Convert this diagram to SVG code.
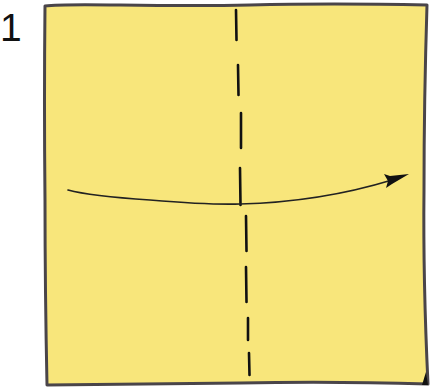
<svg xmlns="http://www.w3.org/2000/svg" width="431" height="387" viewBox="0 0 431 387">
<style>
.paper{fill:#F8E67B;stroke:#4a4549;stroke-width:3;stroke-linejoin:round}
.fold{fill:none;stroke:#111;stroke-width:2.6;stroke-linecap:round}
.arrow{fill:none;stroke:#222;stroke-width:1.7;stroke-linecap:round}
.label{font-family:"Liberation Sans",Arial,sans-serif;font-size:39px;fill:#111}
</style>
<rect width="431" height="387" fill="#fff"/>
<g id="step-label"><text class="label" x="0" y="41">1</text></g>
<g id="paper">
<path class="paper" d="M45,6 Q60,4 120,5 Q200,6 250,5 Q330,3 427,5 Q424,100 424,190 Q423,280 428,384 Q330,381 240,383 Q150,384 47,385 Q45,290 45,200 Q44,100 45,6 Z"/>
<path d="M426,372 L428,385 L422,385 Z" fill="#111"/>
</g>
<g id="valley-fold">
<path class="fold" d="M236,10 L236.5,40 M238,65 L238.5,95 M241,113 L241,148 M240,168 L240.5,205 M246,216 L246.5,251 M246,267 L246.5,302 M248,318 L248,340 M249,353 L249.5,375"/>
</g>
<g id="connectors">
<path class="arrow" d="M68,190 Q90,196 150,200 Q210,205 240,204 Q320,202 392,180"/>
<path d="M409,174 L390,176 L384,174 L388,181 L386,188 L392,184 Z" fill="#111"/>
</g>
</svg>
